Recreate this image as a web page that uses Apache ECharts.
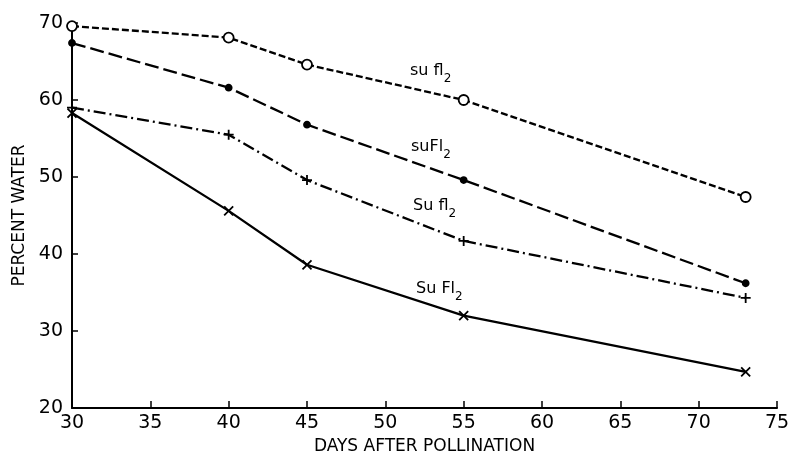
<!DOCTYPE html>
<html><head><meta charset="utf-8">
<script src="https://cdn.jsdelivr.net/npm/echarts@6/dist/echarts.min.js"></script>
<style>html,body{margin:0;padding:0;background:#fff}#c{width:799px;height:456px}</style>
</head><body><div id="c"></div>
<script>
const days = [30, 40, 45, 55, 73];
const suFl2Open = [69.6, 68.1, 64.6, 60.0, 47.4];   // su fl2 (open circles)
const suFl2Dot  = [67.4, 61.6, 56.8, 49.6, 36.2];   // suFl2 (filled dots)
const SuFl2Plus = [59.0, 55.5, 49.6, 41.7, 34.3];   // Su fl2 (plus)
const SuFl2X    = [58.3, 45.6, 38.6, 32.0, 24.7];   // Su Fl2 (x)
const xTicks = [30, 35, 40, 45, 50, 55, 60, 65, 70, 75];
const yTicks = [20, 30, 40, 50, 60, 70];

const font = '"DejaVu Sans", sans-serif';
const plusPath = 'path://M5,0 L5,10 M0,5 L10,5';
const crossPath = 'path://M0,0 L10,10 M10,0 L0,10';

function pairs(vals){ return days.map((d,i)=>[d, vals[i]]); }

function mk(name, vals, type, symbol, size, fill){
  return {
    name, type:'line', data: pairs(vals), symbol, symbolSize:size,
    lineStyle:{color:'#000', width:2.3, type},
    itemStyle:{color: fill, borderColor:'#000', borderWidth:1.8},
    z: 3
  };
}

const chart = echarts.init(document.getElementById('c'), null, {renderer:'canvas'});
const sub = {b:{fontFamily:font,fontSize:16,color:'#000'}, s:{fontFamily:font,fontSize:12,color:'#000',verticalAlign:'bottom',padding:[0,0,-6,0]}};
function lbl(x,y,main){
  return {type:'text', left:x, top:y, style:{text:'{b|'+main+'}{s|2}', rich:sub, fill:'#000'}};
}
chart.setOption({
  animation:false,
  backgroundColor:'#fff',
  grid:{left:72, right:22, top:23, bottom:48, containLabel:false, outerBoundsMode:'none'},
  xAxis:{type:'value', min:30, max:75, interval:5,
    axisLine:{lineStyle:{color:'#000', width:2}},
    axisTick:{inside:true, length:7, lineStyle:{color:'#000', width:1.5}},
    axisLabel:{color:'#000', fontFamily:font, fontSize:19, margin:6},
    splitLine:{show:false},
    name:'DAYS AFTER POLLINATION', nameLocation:'middle', nameGap:29,
    nameTextStyle:{color:'#000', fontFamily:font, fontSize:17}
  },
  yAxis:{type:'value', min:20, max:70, interval:10,
    axisLine:{show:true, lineStyle:{color:'#000', width:2}},
    axisTick:{show:true, inside:true, length:6, lineStyle:{color:'#000', width:1.5}},
    axisLabel:{color:'#000', fontFamily:font, fontSize:19, margin:9},
    splitLine:{show:false},
    name:'PERCENT WATER', nameLocation:'middle', nameGap:32,
    nameTextStyle:{color:'#000', fontFamily:font, fontSize:17}
  },
  series:[
    mk('su fl2', suFl2Open, [7,3], 'circle', 10, '#fff'),
    mk('suFl2', suFl2Dot, [14,5], 'circle', 6, '#000'),
    mk('Su fl2', SuFl2Plus, [12,4,2,4], plusPath, 10, 'none'),
    mk('Su Fl2', SuFl2X, 'solid', crossPath, 9, 'none')
  ],
  graphic:[
    lbl(410,63,'su fl'),
    lbl(411,139,'suFl'),
    lbl(413,198,'Su fl'),
    lbl(416,281,'Su Fl')
  ]
});
</script></body></html>
